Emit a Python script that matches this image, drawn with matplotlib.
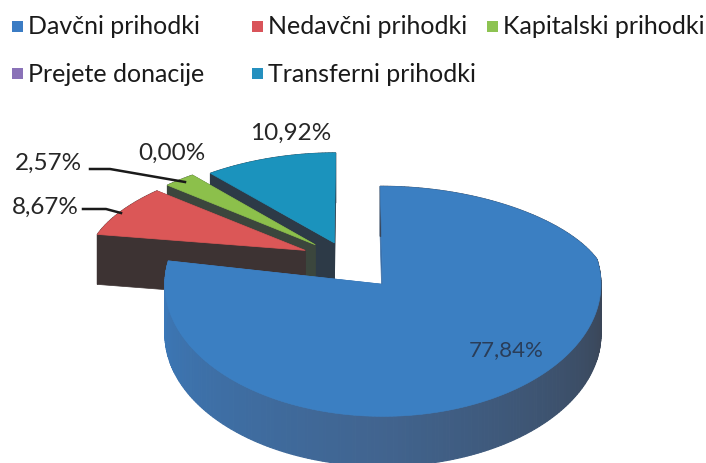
import numpy as np
import matplotlib.pyplot as plt
from matplotlib.patches import Polygon, Rectangle
from matplotlib.colors import to_rgb

plt.rcParams['font.family'] = ['Lato', 'DejaVu Sans']

# data
categories = ['Davčni prihodki', 'Nedavčni prihodki', 'Kapitalski prihodki',
              'Prejete donacije', 'Transferni prihodki']
shares = [77.84, 8.67, 2.57, 0.00, 10.92]
labels = ['77,84%', '8,67%', '2,57%', '0,00%', '10,92%']

top_colors = ['#3b7fc2', '#db5757', '#8cc04b', '#8064a2', '#1b93bd']
side_colors = ['#3b6fa8', '#3d3333', '#3b463d', '#3a3346', '#2d3a47']
legend_colors = ['#3b7cc4', '#d9545a', '#8dc352', '#8a72b8', '#2590bf']

# geometry of the fake 3d pie (pixels)
CX, CY = 348, 260
RX, RY_BACK, RY_FRONT = 218, 90, 132
DEPTH = 50
EXPLODE = [0.25, 0.22, 0.22, 0.22, 0.19]


def to_screen(u, v, z=0.0):
    # cheap perspective: the far half is flatter and a bit narrower
    ry = RY_BACK if v > 0 else RY_FRONT
    sx = 1 - 0.1 * max(v, 0)
    return CX + RX * u * sx, CY - ry * v + z


def blue_side_color(theta):
    # shading of the outer wall, light on the left, dark on the right
    t = np.clip((theta + 180) / 180, 0, 1)
    c0, c1, c2 = (np.array(to_rgb(c)) for c in ('#3b78b8', '#41648f', '#3a4556'))
    if t < 0.5:
        return c0 + (c1 - c0) * t / 0.5
    return c1 + (c2 - c1) * (t - 0.5) / 0.5


fig = plt.figure(figsize=(7.06, 4.64), dpi=100)
ax = fig.add_axes([0, 0, 1, 1])
ax.set_xlim(0, 706)
ax.set_ylim(464, 0)
ax.axis('off')

# slice angles, excel style: start at 12 o'clock, clockwise
slices = []
start = 90.0
for i, s in enumerate(shares):
    a0 = start
    a1 = start - s * 3.6
    start = a1
    m = np.radians((a0 + a1) / 2)
    ou, ov = EXPLODE[i] * np.cos(m), EXPLODE[i] * np.sin(m)
    slices.append((i, a0, a1, ou, ov))

# back slices first
order = sorted(slices, key=lambda t: -t[4] if t[0] != 0 else 99)

for i, a0, a1, ou, ov in order:
    if shares[i] == 0:
        continue
    th = np.linspace(a0, a1, max(int(abs(a0 - a1)), 2) + 1)
    arc = [(ou + np.cos(np.radians(t)), ov + np.sin(np.radians(t))) for t in th]

    # radial walls
    for a in (a0, a1):
        pu, pv = ou + np.cos(np.radians(a)), ov + np.sin(np.radians(a))
        quad = [to_screen(ou, ov), to_screen(pu, pv),
                to_screen(pu, pv, DEPTH), to_screen(ou, ov, DEPTH)]
        ax.add_patch(Polygon(quad, closed=True, facecolor=side_colors[i],
                             edgecolor=side_colors[i], lw=0.5))

    # outer wall
    for k in range(len(arc) - 1):
        (u0, v0), (u1, v1) = arc[k], arc[k + 1]
        col = blue_side_color(th[k]) if i == 0 else side_colors[i]
        quad = [to_screen(u0, v0), to_screen(u1, v1),
                to_screen(u1, v1, DEPTH), to_screen(u0, v0, DEPTH)]
        ax.add_patch(Polygon(quad, closed=True, facecolor=col,
                             edgecolor=col, lw=0.8))

    # top face
    pts = [to_screen(ou, ov)] + [to_screen(u, v) for u, v in arc]
    ax.add_patch(Polygon(pts, closed=True, facecolor=top_colors[i],
                         edgecolor=top_colors[i], lw=0.5))

# data labels
txt = dict(fontsize=17.5, color='#262626', ha='center', va='center')
ax.text(506, 350, labels[0], fontsize=16, color='#2a3d58',
        ha='center', va='center')
ax.text(45, 207, labels[1], **txt)
ax.text(48, 163, labels[2], **txt)
ax.text(172, 153, labels[3], **txt)
ax.text(291, 133, labels[4], **txt)

# leader lines
ax.plot([83, 106, 121], [210, 210, 214], color='#1a1a1a', lw=1.8)
ax.plot([90, 110, 185], [170, 170, 183], color='#1a1a1a', lw=1.8)

# legend, row by row like excel
legend_x = [12, 252, 487, 12, 252]
legend_y = [27, 27, 27, 74, 74]
for name, col, lx, ly in zip(categories, legend_colors, legend_x, legend_y):
    ax.add_patch(Rectangle((lx, ly - 5.5), 11, 11, facecolor=col, edgecolor='none'))
    ax.text(lx + 16, ly, name, fontsize=18, color='#1a1a1a', ha='left', va='center')

fig.savefig('out.png', dpi=100)
